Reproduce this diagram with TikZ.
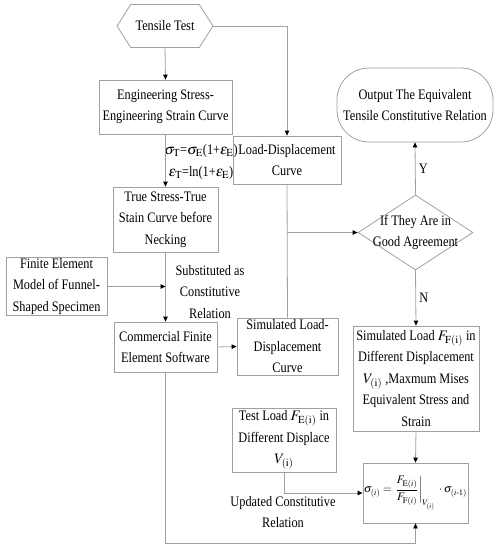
\documentclass[tikz,border=0pt]{standalone}
\usepackage{amsmath}
\usepackage{mathptmx}
\usepackage{fontspec}
\setmainfont{Liberation Serif}[FakeStretch=0.85]
\usetikzlibrary{arrows.meta,shapes.geometric,shapes.symbols}
\definecolor{linegray}{RGB}{160,160,160}

\begin{document}
\begin{tikzpicture}[x=1pt,y=1pt,
  font=\fontsize{14.5}{21.5}\selectfont,
  box/.style={draw=linegray,line width=0.8pt,align=center,inner sep=1pt},
  flow/.style={draw=linegray,line width=0.8pt},
  arrow/.style={flow,-{Triangle[color=black,length=5pt,width=4.5pt]}}]

  \useasboundingbox (0,0) rectangle (499,-550);

  \node[box,shape=signal,signal to=west and east,signal pointer angle=115,
    minimum width=96,minimum height=43] (test) at (165,-26) {Tensile Test};
  \node[box,minimum width=133,minimum height=54] (eng) at (165.5,-107)
    {Engineering Stress-\\Engineering Strain Curve};
  \node[align=center,inner sep=0pt] (trueeq) at (201,-162)
    {$\sigma_{\mathrm{T}}$=$\sigma_{\mathrm{E}}$(1+$\varepsilon_{\mathrm{E}}$)\\
     $\varepsilon_{\mathrm{T}}$=ln(1+$\varepsilon_{\mathrm{E}}$)};
  \node[box,minimum width=105,minimum height=65] (truecurve) at (165.5,-219.5)
    {True Stress-True\\Stain Curve before\\Necking};
  \node[box,minimum width=101,minimum height=57] (fem) at (56.5,-286.5)
    {Finite Element\\Model of Funnel-\\Shaped Specimen};
  \node[align=center,inner sep=0pt] (subst) at (210,-292)
    {Substituted as\\Constitutive\\Relation};
  \node[box,minimum width=103,minimum height=50] (cfe) at (165.5,-347)
    {Commercial Finite\\Element Software};
  \node[box,minimum width=108,minimum height=48] (ld) at (287,-160)
    {Load-Displacement\\Curve};
  \node[box,minimum width=101,minimum height=57] (sld) at (287.5,-346.5)
    {Simulated Load-\\Displacement\\Curve};
  \node[box,rounded corners=32pt,minimum width=156,minimum height=74] (out) at (415,-105)
    {Output The Equivalent\\Tensile Constitutive Relation};
  \node[box,shape=diamond,minimum width=115,minimum height=75,inner sep=0pt,
    label={[align=center]center:If They Are in\\Good Agreement}] (agree) at (415.5,-232.5) {};
  \node[box,minimum width=126,minimum height=105] (sim) at (416,-378.5)
    {Simulated Load $F_{\mathrm{F(i)}}$ in\\Different Displacement\\
     $V_{\mathrm{(i)}}$ ,Maxmum Mises\\Equivalent Stress and\\Strain};
  \node[box,minimum width=104,minimum height=64] (tload) at (284,-440)
    {Test Load $F_{\mathrm{E(i)}}$ in\\Different Displace\\$V_{\mathrm{(i)}}$};
  \node[align=center,inner sep=0pt] (updtext) at (283,-512)
    {Updated Constitutive\\Relation};
  \node[box,minimum width=97,minimum height=60,font=\fontsize{11.5}{14}\selectfont] (upd) at (415.5,-493)
    {$\sigma_{(i)}=\left.\dfrac{F_{\mathrm{E}(i)}}{F_{\mathrm{F}(i)}}\right|_{V_{(i)}}\;\cdot\sigma_{(i\text{-}1)}$};

  \coordinate (split) at (ld.south |- agree.west);
  \coordinate (bottom) at (415.5,-543);

  \draw[arrow] (test.south) -- (eng.north);
  \draw[arrow] (test.east) -| (ld.north);
  \draw[arrow] (eng.south) -- (truecurve.north);
  \draw[arrow] (truecurve.south) -- (cfe.north);
  \draw[arrow] (fem.east) -- (fem.east -| cfe.north);
  \draw[arrow] (cfe.east) -- (sld.west);
  \draw[flow] (ld.south) -- (sld.north);
  \draw[arrow] (split) -- (agree.west);
  \draw[arrow] (agree.north) -- node[right]{Y} (out.south);
  \draw[arrow] (agree.south) -- node[right]{N} (sim.north);
  \draw[arrow] (sim.south) -- (upd.north);
  \draw[arrow] (tload.south) |- (upd.west);
  \draw[arrow] (cfe.south) |- (bottom) -- (upd.south);
\end{tikzpicture}
\end{document}
